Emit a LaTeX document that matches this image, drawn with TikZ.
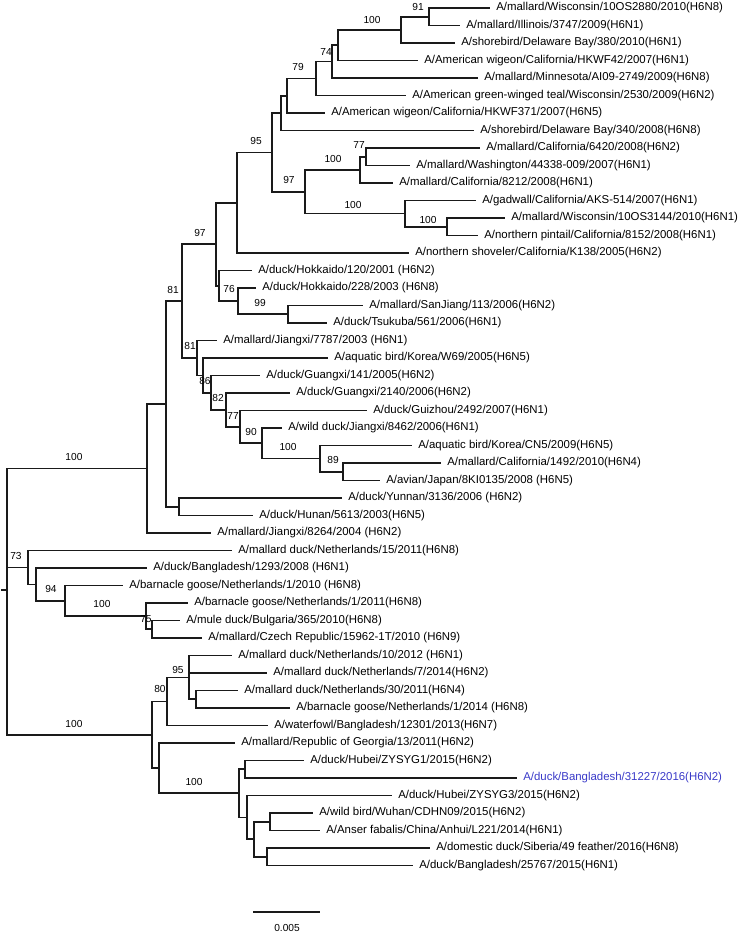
\documentclass[tikz,border=0pt]{standalone}
\usepackage{fontspec}
\setmainfont{Liberation Sans}
\usepackage{xcolor}
\definecolor{Branch}{HTML}{1A1A1A}
\definecolor{Query}{HTML}{3A3AC8}

\begin{document}
\begin{tikzpicture}[x=0.02cm,y=-0.02cm,
  branch/.style={draw=Branch,line width=0.95pt},
  leaf/.style={anchor=west,inner xsep=3.4pt,inner ysep=0pt,font=\fontsize{6.5}{7}\selectfont},
  query/.style={leaf,text=Query},
  boot/.style={inner sep=0pt,font=\fontsize{5.8}{7}\selectfont}
]
\useasboundingbox (0,0) rectangle (750,944);

% leaves
\node[leaf] (l1) at (490,8) {A/mallard/Wisconsin/10OS2880/2010(H6N8)};
\node[leaf] (l2) at (460,25.5) {A/mallard/Illinois/3747/2009(H6N1)};
\node[leaf] (l3) at (455,43) {A/shorebird/Delaware Bay/380/2010(H6N1)};
\node[leaf] (l4) at (418,60.5) {A/American wigeon/California/HKWF42/2007(H6N1)};
\node[leaf] (l5) at (478,78) {A/mallard/Minnesota/AI09-2749/2009(H6N8)};
\node[leaf] (l6) at (406,95.5) {A/American green-winged teal/Wisconsin/2530/2009(H6N2)};
\node[leaf] (l7) at (325,113) {A/American wigeon/California/HKWF371/2007(H6N5)};
\node[leaf] (l8) at (474,130.5) {A/shorebird/Delaware Bay/340/2008(H6N8)};
\node[leaf] (l9) at (480,148) {A/mallard/California/6420/2008(H6N2)};
\node[leaf] (l10) at (410,165.5) {A/mallard/Washington/44338-009/2007(H6N1)};
\node[leaf] (l11) at (393,183) {A/mallard/California/8212/2008(H6N1)};
\node[leaf] (l12) at (476,200.5) {A/gadwall/California/AKS-514/2007(H6N1)};
\node[leaf] (l13) at (505,218) {A/mallard/Wisconsin/10OS3144/2010(H6N1)};
\node[leaf] (l14) at (478,235.5) {A/northern pintail/California/8152/2008(H6N1)};
\node[leaf] (l15) at (409,253) {A/northern shoveler/California/K138/2005(H6N2)};
\node[leaf] (l16) at (252,270.5) {A/duck/Hokkaido/120/2001 (H6N2)};
\node[leaf] (l17) at (256,288) {A/duck/Hokkaido/228/2003 (H6N8)};
\node[leaf] (l18) at (363,305.5) {A/mallard/SanJiang/113/2006(H6N2)};
\node[leaf] (l19) at (327,323) {A/duck/Tsukuba/561/2006(H6N1)};
\node[leaf] (l20) at (217,340.5) {A/mallard/Jiangxi/7787/2003 (H6N1)};
\node[leaf] (l21) at (328,358) {A/aquatic bird/Korea/W69/2005(H6N5)};
\node[leaf] (l22) at (260,375.5) {A/duck/Guangxi/141/2005(H6N2)};
\node[leaf] (l23) at (290,393) {A/duck/Guangxi/2140/2006(H6N2)};
\node[leaf] (l24) at (367,410.5) {A/duck/Guizhou/2492/2007(H6N1)};
\node[leaf] (l25) at (282,428) {A/wild duck/Jiangxi/8462/2006(H6N1)};
\node[leaf] (l26) at (412,445.5) {A/aquatic bird/Korea/CN5/2009(H6N5)};
\node[leaf] (l27) at (441,463) {A/mallard/California/1492/2010(H6N4)};
\node[leaf] (l28) at (380,480.5) {A/avian/Japan/8KI0135/2008 (H6N5)};
\node[leaf] (l29) at (342,498) {A/duck/Yunnan/3136/2006 (H6N2)};
\node[leaf] (l30) at (253,515.5) {A/duck/Hunan/5613/2003(H6N5)};
\node[leaf] (l31) at (211,533) {A/mallard/Jiangxi/8264/2004 (H6N2)};
\node[leaf] (l32) at (232,550.5) {A/mallard duck/Netherlands/15/2011(H6N8)};
\node[leaf] (l33) at (147,568) {A/duck/Bangladesh/1293/2008 (H6N1)};
\node[leaf] (l34) at (123,585.5) {A/barnacle goose/Netherlands/1/2010 (H6N8)};
\node[leaf] (l35) at (188,603) {A/barnacle goose/Netherlands/1/2011(H6N8)};
\node[leaf] (l36) at (180,620.5) {A/mule duck/Bulgaria/365/2010(H6N8)};
\node[leaf] (l37) at (202,638) {A/mallard/Czech Republic/15962-1T/2010 (H6N9)};
\node[leaf] (l38) at (232,655.5) {A/mallard duck/Netherlands/10/2012 (H6N1)};
\node[leaf] (l39) at (267,673) {A/mallard duck/Netherlands/7/2014(H6N2)};
\node[leaf] (l40) at (238,690.5) {A/mallard duck/Netherlands/30/2011(H6N4)};
\node[leaf] (l41) at (290,708) {A/barnacle goose/Netherlands/1/2014 (H6N8)};
\node[leaf] (l42) at (268,725.5) {A/waterfowl/Bangladesh/12301/2013(H6N7)};
\node[leaf] (l43) at (235,743) {A/mallard/Republic of Georgia/13/2011(H6N2)};
\node[leaf] (l44) at (304,760.5) {A/duck/Hubei/ZYSYG1/2015(H6N2)};
\node[query] (l45) at (517,778) {A/duck/Bangladesh/31227/2016(H6N2)};
\node[leaf] (l46) at (392,795.5) {A/duck/Hubei/ZYSYG3/2015(H6N2)};
\node[leaf] (l47) at (313,813) {A/wild bird/Wuhan/CDHN09/2015(H6N2)};
\node[leaf] (l48) at (320,830.5) {A/Anser fabalis/China/Anhui/L221/2014(H6N1)};
\node[leaf] (l49) at (430,848) {A/domestic duck/Siberia/49 feather/2016(H6N8)};
\node[leaf] (l50) at (413,865.5) {A/duck/Bangladesh/25767/2015(H6N1)};

% internal nodes
\coordinate (n91) at (429,16.75);
\coordinate (n100a) at (401,29.9);
\coordinate (nA) at (338,45.2);
\coordinate (n74) at (332,61.6);
\coordinate (n79) at (316,78.6);
\coordinate (nB) at (287,95.8);
\coordinate (nC) at (281,113.1);
\coordinate (n77u) at (366,156.75);
\coordinate (n100d) at (360,169.9);
\coordinate (n100f) at (447,226.75);
\coordinate (n100e) at (405,213.6);
\coordinate (n97i) at (305,191.8);
\coordinate (n95) at (272,152.5);
\coordinate (nX) at (237,202.7);
\coordinate (n99) at (288,314.25);
\coordinate (n76) at (238,301.1);
\coordinate (nZ) at (219,285.8);
\coordinate (nY) at (216,244.3);
\coordinate (n89) at (343,471.75);
\coordinate (n100h) at (320,458.6);
\coordinate (n90) at (262,443.3);
\coordinate (n77m) at (240,426.9);
\coordinate (n82) at (226,410.0);
\coordinate (n86) at (211,392.7);
\coordinate (nP) at (203,375.4);
\coordinate (n81l) at (197,357.9);
\coordinate (n81u) at (182,301.1);
\coordinate (nYH) at (179,506.75);
\coordinate (nE) at (166,403.9);
\coordinate (n100u) at (147,468.5);
\coordinate (n75) at (152,629.25);
\coordinate (n100b) at (146,616.1);
\coordinate (n94) at (65,600.8);
\coordinate (nD) at (36,584.4);
\coordinate (n73) at (28,567.5);
\coordinate (nQ) at (196,699.25);
\coordinate (n95b) at (189,677.4);
\coordinate (n80) at (167,701.5);
\coordinate (nG1) at (245,769.25);
\coordinate (nG4) at (270,821.75);
\coordinate (nG5) at (267,856.75);
\coordinate (nG3) at (254,839.25);
\coordinate (nG2) at (247,817.4);
\coordinate (n100j) at (239,793.3);
\coordinate (n100i) at (159,768.2);
\coordinate (n100l) at (152,734.8);
\coordinate (root) at (7,590.3);
\coordinate (tick) at (1,590.3);

% branches
\draw[branch] (n91) |- (l1.west);
\draw[branch] (n91) |- (l2.west);
\draw[branch] (n100a) |- (n91);
\draw[branch] (n100a) |- (l3.west);
\draw[branch] (nA) |- (n100a);
\draw[branch] (nA) |- (l4.west);
\draw[branch] (n74) |- (nA);
\draw[branch] (n74) |- (l5.west);
\draw[branch] (n79) |- (n74);
\draw[branch] (n79) |- (l6.west);
\draw[branch] (nB) |- (n79);
\draw[branch] (nB) |- (l7.west);
\draw[branch] (nC) |- (nB);
\draw[branch] (nC) |- (l8.west);
\draw[branch] (n77u) |- (l9.west);
\draw[branch] (n77u) |- (l10.west);
\draw[branch] (n100d) |- (n77u);
\draw[branch] (n100d) |- (l11.west);
\draw[branch] (n100f) |- (l13.west);
\draw[branch] (n100f) |- (l14.west);
\draw[branch] (n100e) |- (l12.west);
\draw[branch] (n100e) |- (n100f);
\draw[branch] (n97i) |- (n100d);
\draw[branch] (n97i) |- (n100e);
\draw[branch] (n95) |- (nC);
\draw[branch] (n95) |- (n97i);
\draw[branch] (nX) |- (n95);
\draw[branch] (nX) |- (l15.west);
\draw[branch] (n99) |- (l18.west);
\draw[branch] (n99) |- (l19.west);
\draw[branch] (n76) |- (l17.west);
\draw[branch] (n76) |- (n99);
\draw[branch] (nZ) |- (l16.west);
\draw[branch] (nZ) |- (n76);
\draw[branch] (nY) |- (nX);
\draw[branch] (nY) |- (nZ);
\draw[branch] (n89) |- (l27.west);
\draw[branch] (n89) |- (l28.west);
\draw[branch] (n100h) |- (l26.west);
\draw[branch] (n100h) |- (n89);
\draw[branch] (n90) |- (l25.west);
\draw[branch] (n90) |- (n100h);
\draw[branch] (n77m) |- (l24.west);
\draw[branch] (n77m) |- (n90);
\draw[branch] (n82) |- (l23.west);
\draw[branch] (n82) |- (n77m);
\draw[branch] (n86) |- (l22.west);
\draw[branch] (n86) |- (n82);
\draw[branch] (nP) |- (l21.west);
\draw[branch] (nP) |- (n86);
\draw[branch] (n81l) |- (l20.west);
\draw[branch] (n81l) |- (nP);
\draw[branch] (n81u) |- (nY);
\draw[branch] (n81u) |- (n81l);
\draw[branch] (nYH) |- (l29.west);
\draw[branch] (nYH) |- (l30.west);
\draw[branch] (nE) |- (n81u);
\draw[branch] (nE) |- (nYH);
\draw[branch] (n100u) |- (nE);
\draw[branch] (n100u) |- (l31.west);
\draw[branch] (n75) |- (l36.west);
\draw[branch] (n75) |- (l37.west);
\draw[branch] (n100b) |- (l35.west);
\draw[branch] (n100b) |- (n75);
\draw[branch] (n94) |- (l34.west);
\draw[branch] (n94) |- (n100b);
\draw[branch] (nD) |- (l33.west);
\draw[branch] (nD) |- (n94);
\draw[branch] (n73) |- (l32.west);
\draw[branch] (n73) |- (nD);
\draw[branch] (nQ) |- (l40.west);
\draw[branch] (nQ) |- (l41.west);
\draw[branch] (n95b) |- (l38.west);
\draw[branch] (n95b) |- (l39.west);
\draw[branch] (n95b) |- (nQ);
\draw[branch] (n80) |- (n95b);
\draw[branch] (n80) |- (l42.west);
\draw[branch] (nG1) |- (l44.west);
\draw[branch] (nG1) |- (l45.west);
\draw[branch] (nG4) |- (l47.west);
\draw[branch] (nG4) |- (l48.west);
\draw[branch] (nG5) |- (l49.west);
\draw[branch] (nG5) |- (l50.west);
\draw[branch] (nG3) |- (nG4);
\draw[branch] (nG3) |- (nG5);
\draw[branch] (nG2) |- (l46.west);
\draw[branch] (nG2) |- (nG3);
\draw[branch] (n100j) |- (nG1);
\draw[branch] (n100j) |- (nG2);
\draw[branch] (n100i) |- (l43.west);
\draw[branch] (n100i) |- (n100j);
\draw[branch] (n100l) |- (n80);
\draw[branch] (n100l) |- (n100i);
\draw[branch] (root) |- (n100u);
\draw[branch] (root) |- (n73);
\draw[branch] (root) |- (n100l);
\draw[branch] (tick) -- (root);

% bootstrap values
\node[boot] (b91) at (418,7) {91};
\node[boot] (b100a) at (372,20) {100};
\node[boot] (b74) at (326,52) {74};
\node[boot] (b79) at (298,67) {79};
\node[boot] (b95) at (256,141) {95};
\node[boot] (b77u) at (359,145) {77};
\node[boot] (b100d) at (333,159) {100};
\node[boot] (b97i) at (289,180) {97};
\node[boot] (b100e) at (353,205) {100};
\node[boot] (b100f) at (428,220) {100};
\node[boot] (b97) at (200,233) {97};
\node[boot] (b81u) at (173,290) {81};
\node[boot] (b76) at (229,289) {76};
\node[boot] (b99) at (260,303) {99};
\node[boot] (b81l) at (190,346) {81};
\node[boot] (b86) at (205,381) {86};
\node[boot] (b82) at (218,398) {82};
\node[boot] (b77m) at (233,416) {77};
\node[boot] (b90) at (251,432) {90};
\node[boot] (b100h) at (288,447) {100};
\node[boot] (b89) at (333,460) {89};
\node[boot] (b100u) at (74,457) {100};
\node[boot] (b73) at (16,556) {73};
\node[boot] (b94) at (51,589) {94};
\node[boot] (b100b) at (102,604) {100};
\node[boot] (b75) at (146,619) {75};
\node[boot] (b95b) at (178,670) {95};
\node[boot] (b80) at (160,689) {80};
\node[boot] (b100l) at (74,724) {100};
\node[boot] (b100j) at (194,782) {100};

% scale bar
\coordinate (sbl) at (253,912);
\coordinate (sbr) at (320,912);
\draw[branch] (sbl) -- (sbr);
\node[boot] (sblab) at (287,928) {0.005};
\end{tikzpicture}
\end{document}
